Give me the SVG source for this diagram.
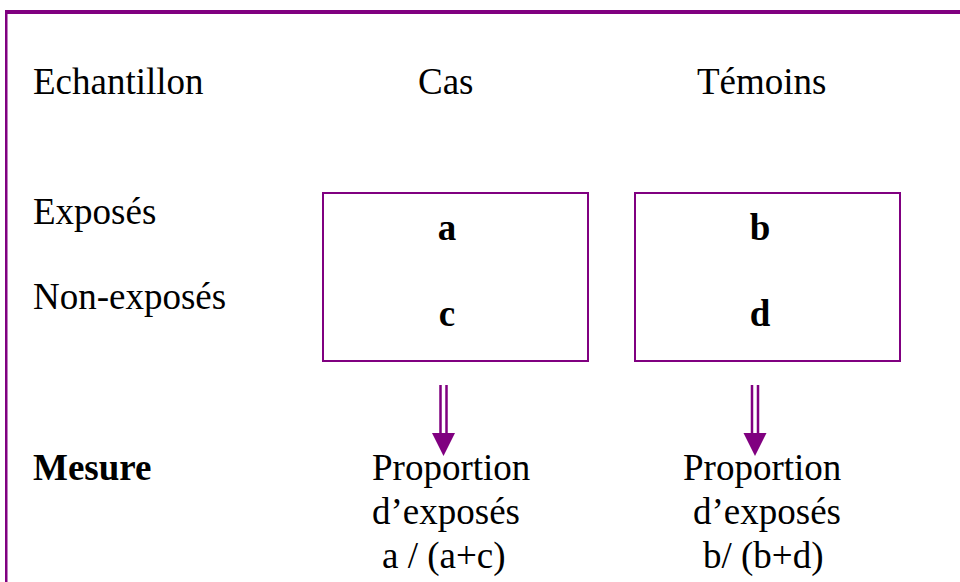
<svg xmlns="http://www.w3.org/2000/svg" width="960" height="582" viewBox="0 0 960 582">
  <style>
    .t { font-size: 37px; fill: #000; }
    .b { font-weight: bold; }
    .box { fill: #fff; stroke: #800080; stroke-width: 2; }
    .shaft { stroke: #800080; stroke-width: 2.5; fill: none; }
    .head { fill: #800080; }
  </style>
  <rect x="0" y="0" width="960" height="582" fill="#fff"/>
  <!-- outer frame: top and left edges -->
  <g id="frame">
    <rect x="5" y="10" width="955" height="4" fill="#800080"/>
    <rect x="5" y="10" width="2.5" height="572" fill="#800080"/>
  </g>

  <g font-family="Liberation Serif, Times New Roman, DejaVu Serif, serif">
  <g id="headers">
    <text class="t" x="33" y="94">Echantillon</text>
    <text class="t" x="418" y="94">Cas</text>
    <text class="t" x="697" y="94">Témoins</text>
  </g>

  <g id="row-labels">
    <text class="t" x="33" y="224">Exposés</text>
    <text class="t" x="33" y="309">Non-exposés</text>
    <text class="t b" x="33" y="480">Mesure</text>
  </g>

  <g id="node-cas">
    <rect class="box" x="323" y="193" width="265" height="168"/>
    <text class="t b" x="447" y="240" text-anchor="middle">a</text>
    <text class="t b" x="447" y="326" text-anchor="middle">c</text>
  </g>

  <g id="node-temoins">
    <rect class="box" x="635" y="193" width="265" height="168"/>
    <text class="t b" x="760" y="240" text-anchor="middle">b</text>
    <text class="t b" x="760" y="326" text-anchor="middle">d</text>
  </g>

  <g id="measure-cas">
    <text class="t" x="372" y="480">Proportion</text>
    <text class="t" x="372" y="524">d’exposés</text>
    <text class="t" x="382" y="568">a / (a+c)</text>
  </g>

  <g id="measure-temoins">
    <text class="t" x="683" y="480">Proportion</text>
    <text class="t" x="693" y="524">d’exposés</text>
    <text class="t" x="703" y="568">b/ (b+d)</text>
  </g>
  </g>

  <g id="connectors">
    <path class="shaft" d="M440.5 385V434M446.5 385V434"/>
    <polygon class="head" points="432,433 455,433 443.5,456"/>
    <path class="shaft" d="M752 385V434M758 385V434"/>
    <polygon class="head" points="743.5,433 766.5,433 755,456"/>
  </g>
</svg>
